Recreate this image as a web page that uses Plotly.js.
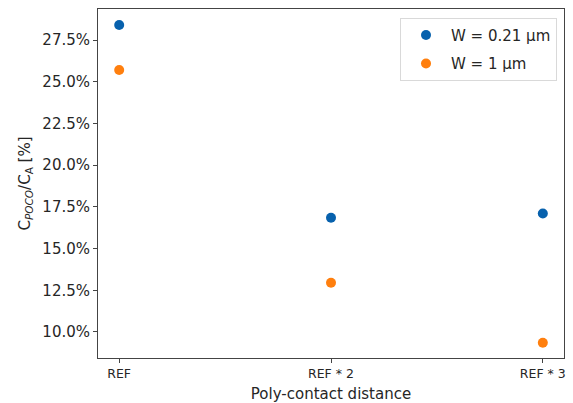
<!DOCTYPE html>
<html><head><meta charset="utf-8">
<script src="https://cdn.plot.ly/plotly-3.0.1.min.js"></script>
<style>body{margin:0;background:#fff}#c{width:573px;height:403px}</style>
</head><body><div id="c"></div>
<script>
const categories = ["REF", "REF * 2", "REF * 3"];
const seriesNames = ["W = 0.21 µm", "W = 1 µm"];
const w021 = [28.4, 16.85, 17.1];
const w1 = [25.7, 12.95, 9.35];
const yTicks = [10, 12.5, 15, 17.5, 20, 22.5, 25, 27.5];
const yTickText = ["10.0%", "12.5%", "15.0%", "17.5%", "20.0%", "22.5%", "25.0%", "27.5%"];

const xIdx = categories.map((_, i) => i);
const traces = [
  {x: xIdx, y: w021, name: seriesNames[0], legendgroup: 'a', mode: 'markers', type: 'scatter',
   marker: {color: '#0761ad', size: 10}},
  {x: xIdx, y: w1, name: seriesNames[1], legendgroup: 'b', mode: 'markers', type: 'scatter',
   marker: {color: '#ff7f0e', size: 10}}
];
const font = {family: 'DejaVu Sans, sans-serif', color: '#262626'};
const layout = {
  width: 573, height: 403,
  margin: {l: 98, r: 9, t: 9, b: 45},
  paper_bgcolor: '#fff', plot_bgcolor: '#fff',
  font: font,
  showlegend: true,
  legend: {x: 0.985, y: 0.975, xanchor: 'right', yanchor: 'top',
    bgcolor: 'rgba(255,255,255,0.8)', bordercolor: '#d9d9d9', borderwidth: 1,
    traceorder: 'grouped', tracegroupgap: 6,
    font: {family: font.family, size: 15, color: '#262626'}, itemwidth: 40},
  xaxis: {range: [-0.1, 2.1], tickvals: xIdx, ticktext: categories,
    showgrid: false, zeroline: false, showline: true, linecolor: '#444', linewidth: 1, mirror: true,
    ticks: 'outside', ticklen: 4, tickcolor: '#444',
    tickfont: {family: font.family, size: 12.5, color: '#262626'},
    title: {text: 'Poly-contact distance', font: {family: font.family, size: 15, color: '#262626'}, standoff: 8}},
  yaxis: {range: [8.44, 29.36], tickvals: yTicks, ticktext: yTickText,
    showgrid: false, zeroline: false, showline: true, linecolor: '#444', linewidth: 1, mirror: true,
    ticks: 'outside', ticklen: 4, tickcolor: '#444',
    tickfont: {family: font.family, size: 15, color: '#262626'},
    title: {text: 'C<sub><i>POCO</i></sub>/C<sub>A</sub> [%]', font: {family: font.family, size: 15, color: '#262626'}, standoff: 8}}
};
Plotly.newPlot('c', traces, layout, {displayModeBar: false, staticPlot: true});
</script></body></html>
